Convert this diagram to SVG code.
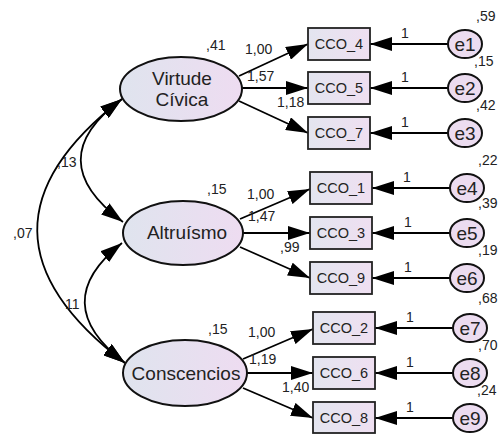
<svg xmlns="http://www.w3.org/2000/svg" width="498" height="434" viewBox="0 0 498 434">
<defs>
<linearGradient id="gl" x1="0" y1="0" x2="1" y2="0">
<stop offset="0" stop-color="#dfe4ee"/>
<stop offset="1" stop-color="#eedcf1"/>
</linearGradient>
<linearGradient id="gb" x1="0" y1="0" x2="1" y2="0">
<stop offset="0" stop-color="#e3e5ef"/>
<stop offset="1" stop-color="#efdff1"/>
</linearGradient>
<marker id="ah" markerUnits="userSpaceOnUse" markerWidth="22" markerHeight="14" refX="22" refY="7" orient="auto-start-reverse" viewBox="0 0 22 14">
<path d="M0,0 L22,7 L0,14 z" fill="#000"/>
</marker>
</defs>
<style>
.lat{fill:url(#gl);stroke:#111;stroke-width:2}
.box{fill:url(#gb);stroke:#222;stroke-width:1.8}
.err{fill:#ecdcf0;stroke:#111;stroke-width:2}
.ln{fill:none;stroke:#000;stroke-width:1.8;marker-end:url(#ah)}
.cv{fill:none;stroke:#000;stroke-width:1.8;marker-start:url(#ah);marker-end:url(#ah)}
text{font-family:"Liberation Sans",Arial,sans-serif;fill:#222}
.lt{font-size:19px;text-anchor:middle}
.bt{font-size:14.5px;text-anchor:middle}
.et{font-size:19px;text-anchor:middle}
.n{font-size:14px}
</style>
<g id="connectors">
<path class="cv" d="M122,99 Q-49,231 125,363"/>
<path class="cv" d="M122,99 Q39,160 123,222"/>
<path class="cv" d="M122,243 Q46,303 125,363"/>
<line class="ln" x1="239" y1="76" x2="308" y2="44"/>
<line class="ln" x1="242" y1="88" x2="308" y2="88"/>
<line class="ln" x1="239" y1="101" x2="308" y2="133"/>
<line class="ln" x1="240" y1="219" x2="310" y2="189"/>
<line class="ln" x1="243" y1="233" x2="310" y2="233"/>
<line class="ln" x1="240" y1="247" x2="310" y2="278"/>
<line class="ln" x1="243" y1="359" x2="313" y2="329"/>
<line class="ln" x1="247" y1="373" x2="313" y2="373"/>
<line class="ln" x1="243" y1="388" x2="313" y2="418"/>
<line class="ln" x1="448" y1="44" x2="370" y2="44"/>
<line class="ln" x1="448" y1="88" x2="370" y2="88"/>
<line class="ln" x1="448" y1="133" x2="370" y2="133"/>
<line class="ln" x1="450" y1="188" x2="372" y2="188"/>
<line class="ln" x1="450" y1="233" x2="372" y2="233"/>
<line class="ln" x1="450" y1="278" x2="372" y2="278"/>
<line class="ln" x1="453" y1="328" x2="375" y2="328"/>
<line class="ln" x1="453" y1="373" x2="375" y2="373"/>
<line class="ln" x1="453" y1="418" x2="375" y2="418"/>
<text class="n" x="57" y="167">,13</text>
<text class="n" x="13" y="238">,07</text>
<text class="n" x="65" y="309">11</text>
<text class="n" x="245" y="54">1,00</text>
<text class="n" x="247" y="81">1,57</text>
<text class="n" x="277" y="107">1,18</text>
<text class="n" x="247" y="199">1,00</text>
<text class="n" x="248" y="221">1,47</text>
<text class="n" x="280" y="252">,99</text>
<text class="n" x="248" y="337">1,00</text>
<text class="n" x="249" y="364">1,19</text>
<text class="n" x="282" y="392">1,40</text>
<text class="n" x="401" y="38">1</text>
<text class="n" x="401" y="82">1</text>
<text class="n" x="401" y="127">1</text>
<text class="n" x="403" y="182">1</text>
<text class="n" x="404" y="227">1</text>
<text class="n" x="404" y="272">1</text>
<text class="n" x="406" y="322">1</text>
<text class="n" x="406" y="367">1</text>
<text class="n" x="406" y="412">1</text>
</g>
<g id="virtude">
<ellipse class="lat" cx="181" cy="89" rx="61" ry="32"/>
<text class="lt" x="182" y="85">Virtude</text>
<text class="lt" x="182" y="106">Cívica</text>
<text class="n" x="206" y="50">,41</text>
</g>
<g id="altruismo">
<ellipse class="lat" cx="183" cy="233" rx="60" ry="32"/>
<text class="lt" x="187" y="239">Altruísmo</text>
<text class="n" x="207" y="194">,15</text>
</g>
<g id="conscencios">
<ellipse class="lat" cx="185" cy="373" rx="62" ry="33"/>
<text class="lt" x="186" y="380">Conscencios</text>
<text class="n" x="208" y="334">,15</text>
</g>
<g id="cco4"><rect class="box" x="308" y="28" width="62" height="32"/><text class="bt" x="339" y="49">CCO_4</text></g>
<g id="cco5"><rect class="box" x="308" y="72" width="62" height="32"/><text class="bt" x="339" y="93">CCO_5</text></g>
<g id="cco7"><rect class="box" x="308" y="117" width="62" height="32"/><text class="bt" x="339" y="138">CCO_7</text></g>
<g id="cco1"><rect class="box" x="310" y="172" width="62" height="32"/><text class="bt" x="341" y="193">CCO_1</text></g>
<g id="cco3"><rect class="box" x="310" y="217" width="62" height="32"/><text class="bt" x="341" y="238">CCO_3</text></g>
<g id="cco9"><rect class="box" x="310" y="262" width="62" height="32"/><text class="bt" x="341" y="283">CCO_9</text></g>
<g id="cco2"><rect class="box" x="313" y="312" width="62" height="32"/><text class="bt" x="344" y="333">CCO_2</text></g>
<g id="cco6"><rect class="box" x="313" y="357" width="62" height="32"/><text class="bt" x="344" y="378">CCO_6</text></g>
<g id="cco8"><rect class="box" x="313" y="402" width="62" height="31"/><text class="bt" x="344" y="423">CCO_8</text></g>
<g id="e1"><ellipse class="err" cx="465" cy="44" rx="17" ry="14"/><text class="et" x="465" y="51">e1</text><text class="n" x="476" y="21">,59</text></g>
<g id="e2"><ellipse class="err" cx="465" cy="88" rx="17" ry="14"/><text class="et" x="465" y="95">e2</text><text class="n" x="474" y="66">,15</text></g>
<g id="e3"><ellipse class="err" cx="465" cy="133" rx="17" ry="14"/><text class="et" x="465" y="140">e3</text><text class="n" x="476" y="110">,42</text></g>
<g id="e4"><ellipse class="err" cx="467" cy="188" rx="17" ry="14"/><text class="et" x="467" y="195">e4</text><text class="n" x="478" y="165">,22</text></g>
<g id="e5"><ellipse class="err" cx="467" cy="233" rx="17" ry="14"/><text class="et" x="467" y="240">e5</text><text class="n" x="478" y="208">,39</text></g>
<g id="e6"><ellipse class="err" cx="467" cy="278" rx="17" ry="14"/><text class="et" x="467" y="285">e6</text><text class="n" x="478" y="255">,19</text></g>
<g id="e7"><ellipse class="err" cx="470" cy="328" rx="17" ry="14"/><text class="et" x="470" y="335">e7</text><text class="n" x="478" y="303">,68</text></g>
<g id="e8"><ellipse class="err" cx="470" cy="373" rx="17" ry="14"/><text class="et" x="470" y="380">e8</text><text class="n" x="478" y="350">,70</text></g>
<g id="e9"><ellipse class="err" cx="470" cy="418" rx="17" ry="14"/><text class="et" x="470" y="425">e9</text><text class="n" x="477" y="395">,24</text></g>
</svg>
